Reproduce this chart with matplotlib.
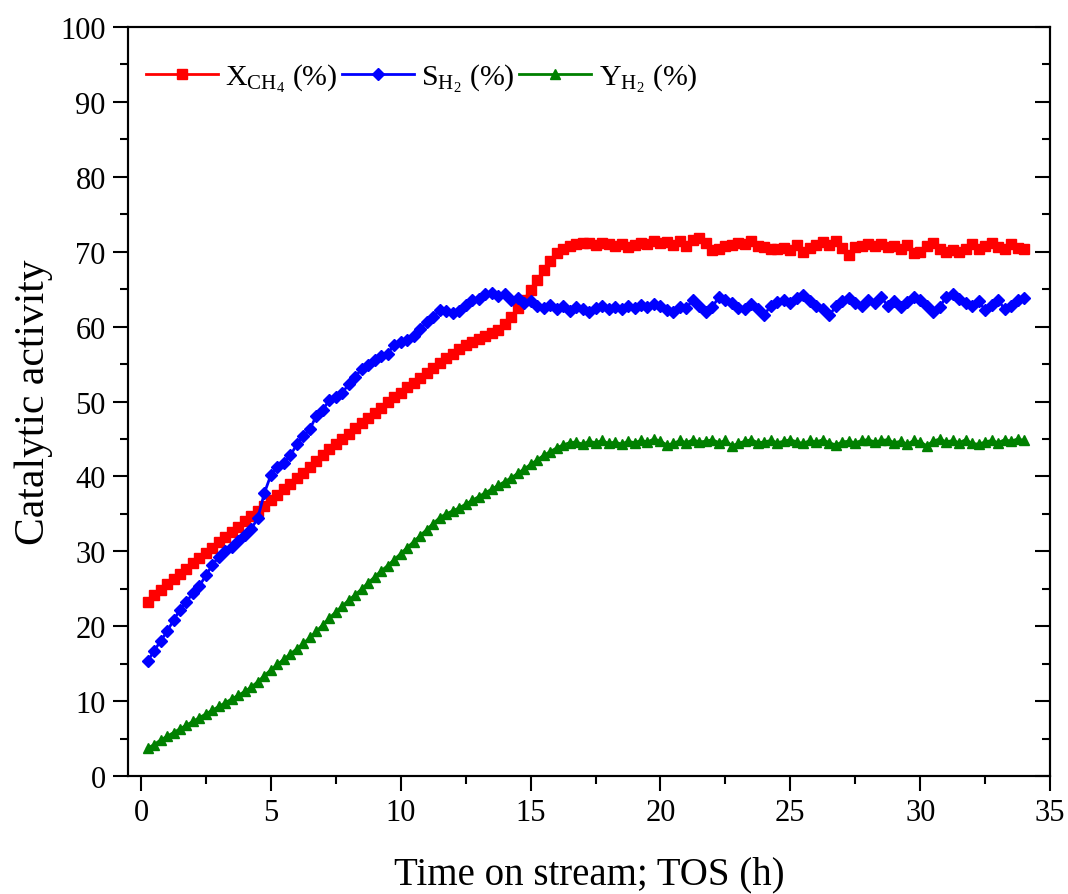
import matplotlib
matplotlib.use("Agg")
import matplotlib.pyplot as plt
import numpy as np
from matplotlib.ticker import MultipleLocator

plt.rcParams['font.family'] = ['Liberation Serif', 'DejaVu Serif']
plt.rcParams['mathtext.fontset'] = 'custom'
plt.rcParams['mathtext.rm'] = 'Liberation Serif'
plt.rcParams['mathtext.it'] = 'Liberation Serif:italic'
plt.rcParams['mathtext.bf'] = 'Liberation Serif:bold'

# sampling every 15 min
tos = np.arange(0.25, 34.01, 0.25)

x_ch4 = [
    23.3, 24.2, 24.9, 25.6, 26.3, 27.0, 27.7, 28.4,
    29.1, 29.8, 30.5, 31.2, 31.9, 32.6, 33.3, 34.0,
    34.7, 35.4, 36.1, 36.8, 37.5, 38.3, 39.0, 39.8,
    40.5, 41.3, 42.0, 42.8, 43.6, 44.3, 45.0, 45.7,
    46.4, 47.1, 47.8, 48.5, 49.2, 49.9, 50.6, 51.2,
    51.9, 52.5, 53.2, 53.8, 54.5, 55.1, 55.8, 56.4,
    57.0, 57.5, 57.9, 58.3, 58.7, 59.1, 59.6, 60.4,
    61.3, 62.5, 63.6, 64.9, 66.2, 67.5, 68.8, 69.8,
    70.4, 70.8, 71.0, 71.2, 71.1, 70.9, 71.2, 71.0,
    70.8, 71.0, 70.6, 70.9, 71.2, 71.0, 71.4, 71.1,
    71.3, 70.9, 71.4, 70.8, 71.6, 71.8, 71.2, 70.2,
    70.4, 70.7, 70.9, 71.2, 71.0, 71.4, 70.8, 70.6,
    70.3, 70.4, 70.5, 70.2, 70.9, 69.9, 70.5, 70.9,
    71.3, 70.9, 71.4, 70.5, 69.6, 70.6, 70.8, 71.0,
    70.7, 71.0, 70.6, 70.8, 70.3, 70.9, 69.8, 70.0,
    70.7, 71.2, 70.4, 69.9, 70.2, 70.0, 70.3, 71.0,
    70.3, 70.8, 71.2, 70.6, 70.4, 71.0, 70.5, 70.3,
]

s_h2 = [
    15.3, 16.7, 18.0, 19.3, 20.8, 22.2, 23.3, 24.4,
    25.4, 26.8, 28.2, 29.3, 30.0, 30.6, 31.4, 32.2,
    33.0, 34.5, 37.8, 40.2, 41.2, 41.8, 42.8, 44.3,
    45.4, 46.3, 48.1, 48.9, 50.2, 50.6, 51.2, 52.3,
    53.3, 54.4, 54.9, 55.6, 56.1, 56.4, 57.6, 58.0,
    58.2, 58.8, 59.7, 60.6, 61.3, 62.2, 62.1, 61.8,
    62.1, 62.9, 63.5, 63.7, 64.3, 64.5, 64.1, 64.3,
    63.6, 63.8, 63.2, 63.4, 62.8, 62.5, 62.9, 62.4,
    62.7, 62.1, 62.6, 62.3, 61.9, 62.5, 62.7, 62.4,
    62.6, 62.3, 62.8, 62.5, 62.9, 62.6, 63.0, 62.7,
    62.2, 61.9, 62.6, 62.5, 63.6, 62.7, 62.0, 62.6,
    64.0, 63.6, 63.2, 62.5, 62.3, 63.0, 62.4, 61.6,
    62.8, 63.3, 63.5, 63.2, 63.8, 64.2, 63.4, 62.8,
    62.3, 61.5, 62.7, 63.4, 63.8, 63.2, 62.7, 63.5,
    63.2, 63.9, 62.8, 63.4, 62.6, 63.3, 64.0, 63.6,
    62.8, 62.0, 62.6, 64.0, 64.3, 63.7, 63.1, 62.8,
    63.4, 62.2, 62.9, 63.6, 62.3, 62.8, 63.5, 63.8,
]

y_h2 = [
    3.7, 4.2, 4.8, 5.3, 5.8, 6.3, 6.8, 7.3,
    7.8, 8.3, 8.8, 9.3, 9.8, 10.3, 10.8, 11.3,
    11.9, 12.6, 13.4, 14.2, 14.9, 15.6, 16.3, 17.0,
    17.7, 18.5, 19.3, 20.2, 21.1, 21.9, 22.7, 23.5,
    24.2, 25.0, 25.8, 26.6, 27.4, 28.1, 28.9, 29.7,
    30.5, 31.3, 32.1, 32.9, 33.7, 34.5, 35.0, 35.4,
    35.8, 36.3, 36.8, 37.3, 37.8, 38.3, 38.8, 39.3,
    39.8, 40.4, 41.0, 41.6, 42.2, 42.8, 43.3, 43.8,
    44.2, 44.5, 44.6, 44.3, 44.7, 44.5, 44.8, 44.4,
    44.6, 44.3, 44.7, 44.5, 44.8, 44.6, 45.0, 44.7,
    44.2, 44.4, 44.8, 44.5, 44.9, 44.6, 44.7, 44.9,
    44.5, 44.8, 44.1, 44.4, 44.7, 44.9, 44.5, 44.6,
    44.8, 44.5, 44.7, 44.9, 44.6, 44.4, 44.8, 44.6,
    44.9, 44.5, 44.2, 44.6, 44.7, 44.5, 44.8, 44.9,
    44.6, 44.8, 44.9, 44.5, 44.7, 44.3, 44.8, 44.6,
    44.1, 44.7, 45.0, 44.6, 44.8, 44.5, 44.9, 44.4,
    44.3, 44.6, 44.8, 44.5, 44.9, 44.7, 45.0, 44.8,
]

labels = [r'X$_{\mathrm{CH_4}}$ (%)', r'S$_{\mathrm{H_2}}$ (%)', r'Y$_{\mathrm{H_2}}$ (%)']

fig = plt.figure(figsize=(10.68, 8.95), dpi=100)
ax = fig.add_axes([0.1199, 0.1318, 0.8633, 0.8369])

ax.plot(tos, x_ch4, color='#ff0000', lw=2, marker='s', ms=6.5,
        mec='#ff0000', label=labels[0])
ax.plot(tos, s_h2, color='#0000ff', lw=2, marker='D', ms=6,
        mec='#0000ff', label=labels[1])
ax.plot(tos, y_h2, color='#008000', lw=2, marker='^', ms=7.5,
        mec='#008000', label=labels[2])

ax.set_xlim(-0.5, 35)
ax.set_ylim(0, 100)
ax.xaxis.set_major_locator(MultipleLocator(5))
ax.xaxis.set_minor_locator(MultipleLocator(2.5))
ax.yaxis.set_major_locator(MultipleLocator(10))
ax.yaxis.set_minor_locator(MultipleLocator(5))

ax.tick_params(which='both', direction='out', width=1.5, labelsize=22,
               top=False, right=False)
ax.tick_params(which='major', length=11, pad=5)
ax.tick_params(which='minor', length=5.5)
for s in ax.spines.values():
    s.set_linewidth(1.5)

# inward ticks on the right spine
ax2 = ax.twinx()
ax2.set_ylim(ax.get_ylim())
ax2.yaxis.set_major_locator(MultipleLocator(10))
ax2.yaxis.set_minor_locator(MultipleLocator(5))
ax2.tick_params(which='both', direction='in', width=1.5, labelright=False)
ax2.tick_params(which='major', length=11)
ax2.tick_params(which='minor', length=5.5)
for s in ax2.spines.values():
    s.set_linewidth(1.5)

ax.set_xlabel('Time on stream; TOS (h)', fontsize=28, labelpad=20)
ax.set_ylabel('Catalytic activity', fontsize=30, labelpad=5)

ax.legend(loc='upper left', bbox_to_anchor=(0.0, 0.978), ncol=3,
          frameon=False, fontsize=21.5, numpoints=1, handlelength=2.4,
          handletextpad=0.25, columnspacing=0.15, borderaxespad=0.2)

fig.savefig('out.png', dpi=100)
